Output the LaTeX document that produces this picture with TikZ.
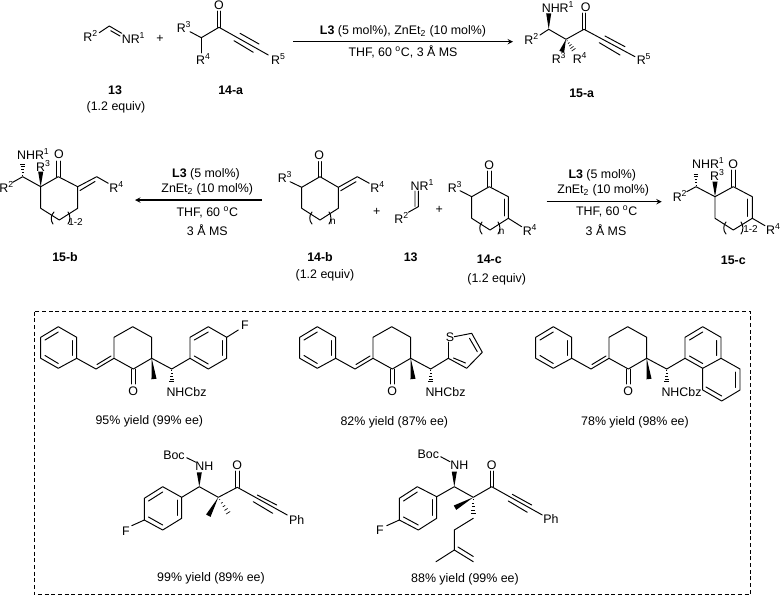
\documentclass[tikz,border=0pt]{standalone}
\usepackage{fontspec}
\setmainfont{Liberation Sans}
\usetikzlibrary{arrows,calc}
\tikzset{
  bond/.style={line width=0.72pt, line cap=round, line join=round, black},
  txt/.style={inner sep=0pt, font=\fontsize{9.3}{11}\selectfont},
  cmpd/.style={inner sep=0pt, font=\fontsize{9.3}{11}\selectfont\bfseries},
  rxnarrow/.style={line width=0.8pt, -stealth, black}
}
\newcommand{\RR}[1]{R\textsuperscript{#1}}
\newcommand{\wedgebond}[2]{\fill (#1) -- ($(#2)!1.9pt!90:(#1)$) -- ($(#2)!1.9pt!-90:(#1)$) -- cycle;}
\newcommand{\hashbond}[2]{\foreach \t/\w in {0.12/0.35,0.3/0.7,0.48/1.05,0.66/1.4,0.84/1.75,1/2.1} {
    \draw [line width=0.5pt] ($(#1)!\t!(#2)!\w pt!90:(#2)$) -- ($(#1)!\t!(#2)!\w pt!-90:(#2)$);
}}
% benzylidene cyclohexanone shared by the three upper products
\newcommand{\enone}{
\draw [bond] (40.7,337.3) -- (58.3,326.7) -- (76.7,337.3) -- (76.7,358.3) -- (58.3,368.3) -- (40.7,358.3) -- cycle;
\draw [bond] (45,340) -- (58.3,332) (72.5,340.5) -- (72.5,355.5) (58.3,363.5) -- (45,355.5);
\draw [bond] (76.7,358.3) -- (96,369) -- (114,358.3) -- (114,337.3) -- (132.7,326.7) -- (151.7,337.3) -- (151.7,358.3) -- (133.3,369) -- (114,358.3);
\draw [bond] (97,364.5) -- (111,356);
\draw [bond] (131.7,369) -- (131.7,384) (135,369) -- (135,384);
\node [txt] (oxo) at (133.3,391) {O};
\wedgebond{151.7,358.3}{154,379}
\draw [bond] (151.7,358.3) -- (171.7,369);
\hashbond{171.7,369}{171.7,384}
\node [txt] (nhcbz) at (186.5,391.7) {NHCbz};
}
\begin{document}
\begin{tikzpicture}[x=0.75pt,y=-0.75pt]
\useasboundingbox (0,0) rectangle (780,596);
% top row
\node [txt] (rtwoa) at (90.7,36) {\RR{2}};
\draw [bond] (99.3,32.7) -- (109.3,26) -- (121.7,33.3);
\draw [bond] (110.7,30.7) -- (120,36);
\node [txt] (nrone) at (133.5,38) {N\RR{1}};
\node [txt] (plusa) at (160,39) {+};
\node [txt] (rthreea) at (184,27.3) {\RR{3}};
\draw [bond] (190,31.7) -- (201.3,37.7) -- (219,27.3);
\draw [bond] (201.3,37.7) -- (201.3,53);
\draw [bond] (217.5,27.3) -- (217.5,11) (220.8,27.3) -- (220.8,11);
\node [txt] (oa) at (219,5) {O};
\node [txt] (rfoura) at (203.3,59.3) {\RR{4}};
\draw [bond] (219,27.3) -- (268.3,55);
\draw [bond] (240,33.3) -- (259,44) (234,40.7) -- (253.3,52.3);
\node [txt] (rfivea) at (278.3,59.3) {\RR{5}};
\node [cmpd] (lbla) at (115,90.7) {13};
\node [txt] (eqa) at (116,107.3) {(1.2 equiv)};
\node [cmpd] (lblb) at (230.7,90.7) {14-a};
\coordinate (topstart) at (293,41.7);
\coordinate (topend) at (513,41.7);
\draw [rxnarrow] (topstart) -- (topend);
\node [txt] (conda) at (403,31) {\textbf{L3} (5 mol\%), ZnEt\textsubscript{2} (10 mol\%)};
\node [txt] (condb) at (403,52) {THF, 60 \textsuperscript{o}C, 3 Å MS};
\node [txt] (nhra) at (558,6.7) {NH\RR{1}};
\wedgebond{548.7,29.3}{548.7,13.3}
\node [txt] (rtwob) at (531.7,39.3) {\RR{2}};
\draw [bond] (540,35) -- (548.7,29.3) -- (566,39.3) -- (584,29.3) -- (635,56.7);
\draw [bond] (582.4,29.3) -- (582.4,13) (585.7,29.3) -- (585.7,13);
\node [txt] (ob) at (585.7,7.3) {O};
\draw [bond] (605,36) -- (625,46.7) (599.3,42.7) -- (620,55);
\wedgebond{566,39.3}{561.7,51.7}
\hashbond{566,39.3}{575,51.7}
\node [txt] (rthreeb) at (559,58.3) {\RR{3}};
\node [txt] (rfourb) at (580,58.3) {\RR{4}};
\node [txt] (rfiveb) at (644,59.3) {\RR{5}};
\node [cmpd] (lblc) at (581.7,93.3) {15-a};
% middle row, left
\node [txt] (nhrc) at (33.3,154.3) {NH\RR{1}};
\node [txt] (oc) at (59,154.3) {O};
\node [txt] (rthreec) at (43.3,165.7) {\RR{3}};
\node [txt] (rtwoc) at (6.7,186.7) {\RR{2}};
\hashbond{22.7,176.7}{22.7,161.7}
\wedgebond{40.7,186.7}{40.7,171.7}
\draw [bond] (12.7,182.3) -- (22.7,176.7) -- (40.7,186.7) -- (58.3,176.7) -- (77.7,186.7) -- (96.7,176.7) -- (108.3,183.3);
\draw [bond] (80,190.5) -- (95,181.5);
\draw [bond] (56.7,176.7) -- (56.7,161) (60,176.7) -- (60,161);
\draw [bond] (40.7,186.7) -- (40.7,208.3) -- (59.3,220) -- (77.7,208.3) -- (77.7,186.7);
\draw [bond] (54,212) .. controls (50.5,215) and (50.5,221) .. (53,224);
\draw [bond] (68,212) .. controls (70.5,215) and (70.5,221) .. (68,224);
\node [txt, font=\fontsize{7.5}{9}\selectfont] (rnga) at (75.5,221.7) {1-2};
\node [txt] (rfourc) at (116.7,186.7) {\RR{4}};
\node [cmpd] (lbld) at (65,257.3) {15-b};
\coordinate (leftstart) at (261.7,200);
\coordinate (leftend) at (135,200);
\draw [rxnarrow] (leftstart) -- (leftend);
\node [txt] (condc) at (206,174) {\textbf{L3} (5 mol\%)};
\node [txt] (condd) at (207.3,189) {ZnEt\textsubscript{2} (10 mol\%)};
\node [txt] (conde) at (207.3,212.3) {THF, 60 \textsuperscript{o}C};
\node [txt] (condf) at (207.3,230) {3 Å MS};
% middle row, centre
\node [txt] (od) at (319.3,155) {O};
\node [txt] (rthreed) at (285,176.7) {\RR{3}};
\draw [bond] (290,181.7) -- (301.7,187.3) -- (320,176.7) -- (338.3,187.3) -- (357.3,176.7) -- (369.3,183.3);
\draw [bond] (340.7,190.7) -- (356,181.7);
\draw [bond] (318.4,176.7) -- (318.4,161.7) (321.7,176.7) -- (321.7,161.7);
\draw [bond] (301.7,187.3) -- (301.7,208.3) -- (320,220) -- (338.3,208.3) -- (338.3,187.3);
\draw [bond] (312,212) .. controls (309,215) and (309,221) .. (312,224);
\draw [bond] (329,212) .. controls (331.5,215) and (331.5,221) .. (329,224);
\node [txt, font=\fontsize{7.5}{9}\selectfont] (rngb) at (332.8,221.5) {n};
\node [txt] (rfourd) at (377.7,186.7) {\RR{4}};
\node [txt] (plusb) at (376.7,212.3) {+};
\node [cmpd] (lble) at (320,257.3) {14-b};
\node [txt] (eqb) at (325,275) {(1.2 equiv)};
\node [txt] (nrtwo) at (422.3,185) {N\RR{1}};
\draw [bond] (415,191) -- (415,206.5) (418.3,191) -- (418.3,206.7) -- (408.3,212.3);
\node [txt] (rtwoe) at (401.7,217.7) {\RR{2}};
\node [cmpd] (lblf) at (410.7,257.3) {13};
\node [txt] (plusc) at (439.3,210) {+};
\node [txt] (oe) at (489.3,165) {O};
\node [txt] (rthreee) at (455,186.7) {\RR{3}};
\draw [bond] (460,190.7) -- (471.7,196.7) -- (489.3,186.7) -- (508.3,196.7) -- (508.3,218.3) -- (521.7,226.7);
\draw [bond] (504.3,199) -- (504.3,216);
\draw [bond] (487.6,186.7) -- (487.6,171) (491,186.7) -- (491,171);
\draw [bond] (471.7,196.7) -- (471.7,218.3) -- (490,230) -- (508.3,218.3);
\draw [bond] (482,222) .. controls (479,225) and (479,231) .. (482,234);
\draw [bond] (498,222) .. controls (500.5,225) and (500.5,231) .. (498,234);
\node [txt, font=\fontsize{7.5}{9}\selectfont] (rngc) at (501.7,231.5) {n};
\node [txt] (rfoure) at (530,230) {\RR{4}};
\node [cmpd] (lblg) at (489.3,259.3) {14-c};
\node [txt] (eqc) at (496.7,279) {(1.2 equiv)};
% middle row, right
\coordinate (rightstart) at (546.7,201.7);
\coordinate (rightend) at (661.7,201.7);
\draw [rxnarrow] (rightstart) -- (rightend);
\node [txt] (condg) at (602.3,175.7) {\textbf{L3} (5 mol\%)};
\node [txt] (condh) at (603.3,190.7) {ZnEt\textsubscript{2} (10 mol\%)};
\node [txt] (condi) at (606.7,211.7) {THF, 60 \textsuperscript{o}C};
\node [txt] (condj) at (606,230) {3 Å MS};
\node [txt] (nhrf) at (708.3,163.3) {NH\RR{1}};
\node [txt] (of) at (733.3,164) {O};
\node [txt] (rthreef) at (717.3,175) {\RR{3}};
\node [txt] (rtwof) at (680,195.7) {\RR{2}};
\hashbond{696,186.7}{696,171.7}
\wedgebond{715,196.7}{715,181.7}
\draw [bond] (686.7,191.7) -- (696,186.7) -- (715,196.7) -- (733.3,186.7) -- (752.3,196.7) -- (752.3,218.3) -- (765,225.7);
\draw [bond] (747.7,199) -- (747.7,216.5);
\draw [bond] (731.6,186.7) -- (731.6,170) (735,186.7) -- (735,170);
\draw [bond] (715,196.7) -- (715,218.3) -- (733.3,230) -- (752.3,218.3);
\draw [bond] (726,222) .. controls (723,225) and (723,231) .. (726,234);
\draw [bond] (741,222) .. controls (743.5,225) and (743.5,231) .. (741,234);
\node [txt, font=\fontsize{7.5}{9}\selectfont] (rngd) at (750.5,229) {1-2};
\node [txt] (rfourf) at (773.3,229) {\RR{4}};
\node [cmpd] (lblh) at (733.3,260) {15-c};
% examples
\draw [line width=0.6pt, densely dashed] (34,311.7) rectangle (750.7,594.3);
\begin{scope}
\enone
\end{scope}
\begin{scope}[shift={(259,0)}]
\enone
\end{scope}
\begin{scope}[shift={(495,0)}]
\enone
\end{scope}
\draw [bond] (171.7,369) -- (190,358.3);
\draw [bond] (190,358.3) -- (190,337.3) -- (208.3,326.7) -- (226.7,337.3) -- (226.7,358.3) -- (208.3,369) -- cycle;
\draw [bond] (194.3,340) -- (208.3,332) (222.5,340.5) -- (222.5,355.5) (208.3,364) -- (194.3,356);
\draw [bond] (226.7,337.3) -- (238.3,330);
\node [txt] (fa) at (245,325.7) {F};
\node [txt] (yielda) at (149.3,421.7) {95\% yield (99\% ee)};
\draw [bond] (430.7,369) -- (448.3,358.3) -- (466.7,368.3) -- (482.3,352.3) -- (471.7,333.3) -- (454.3,336.7);
\draw [bond] (448.3,358.3) -- (448.3,342);
\draw [bond] (453.5,358) -- (465.5,363) (477.3,351.7) -- (469.5,338.3);
\node [txt] (sb) at (450,337) {S};
\node [txt] (yieldb) at (394.3,422.3) {82\% yield (87\% ee)};
\draw [bond] (666.7,369) -- (685,358.3);
\draw [bond] (685,358.3) -- (685,337.3) -- (702.7,326.7) -- (721,337.3) -- (721,358.3) -- (702.7,368.3) -- cycle;
\draw [bond] (721,358.3) -- (740,369) -- (740,390) -- (721.7,401) -- (702.7,390) -- (702.7,368.3);
\draw [bond] (689.5,340) -- (702.7,332) (716.7,340.5) -- (716.7,355.5) (702.7,363.5) -- (689.5,356);
\draw [bond] (735.5,372) -- (735.5,387.5) (721.7,396) -- (706,387);
\node [txt] (yieldc) at (635,422.3) {78\% yield (98\% ee)};
\node [txt] (boca) at (174,455.7) {Boc};
\draw [bond] (186.7,457.7) -- (196,462.3);
\node [txt] (nha) at (204.3,466) {NH};
\wedgebond{199.3,486.7}{199.3,472.3}
\draw [bond] (181.7,497.3) -- (199.3,486.7) -- (218.3,497.3) -- (237.3,487.3) -- (287.3,515);
\draw [bond] (181.7,497.3) -- (181.7,518.3) -- (162.7,530) -- (144.3,520) -- (144.3,498.3) -- (162.7,486.7) -- cycle;
\draw [bond] (177.5,500) -- (177.5,515.5) (162.7,525) -- (148.5,517) (148.5,501) -- (162.7,492);
\draw [bond] (144.3,520) -- (131.7,525.7);
\node [txt] (fb) at (126,531) {F};
\draw [bond] (235.6,487.3) -- (235.6,471) (239,487.3) -- (239,471);
\node [txt] (oh) at (237.3,465.7) {O};
\wedgebond{218.3,497.3}{208.3,515.7}
\hashbond{218.3,497.3}{230,515.7}
\draw [bond] (257.3,495) -- (276.7,505) (253.3,501.7) -- (272.7,513.3);
\node [txt] (pha) at (296.7,520) {Ph};
\node [txt] (yieldd) at (211,578.3) {99\% yield (89\% ee)};
\node [txt] (bocb) at (428.3,454.3) {Boc};
\draw [bond] (440.7,456.7) -- (450,461.7);
\node [txt] (nhb) at (459.3,465) {NH};
\wedgebond{454.3,486.7}{454.3,471.7}
\draw [bond] (436.7,496.7) -- (454.3,486.7) -- (473.3,497.3) -- (491.7,486.7) -- (542.3,515);
\draw [bond] (436.7,496.7) -- (436.7,518.3) -- (418.3,530) -- (399.3,520) -- (399.3,498.3) -- (417.3,486.7) -- cycle;
\draw [bond] (432.5,499.5) -- (432.5,515.5) (418.3,525) -- (403.5,517) (403.5,501) -- (417.3,492);
\draw [bond] (399.3,520) -- (386.7,525.7);
\node [txt] (fc) at (380,530) {F};
\draw [bond] (490,486.7) -- (490,471) (493.4,486.7) -- (493.4,471);
\node [txt] (oi) at (491.7,465) {O};
\wedgebond{473.3,497.3}{455,507.7}
\hashbond{473.3,497.3}{473.3,516.7}
\draw [bond] (473.3,518.3) -- (454.3,530) -- (454.3,550) -- (436,561.7);
\draw [bond] (454.3,550) -- (473.3,561.7) (458,547) -- (473.3,556.5);
\draw [bond] (512.3,494.3) -- (531.7,505) (508.3,501) -- (527.3,512.3);
\node [txt] (phb) at (551,519) {Ph};
\node [txt] (yielde) at (465,579.3) {88\% yield (99\% ee)};
\end{tikzpicture}
\end{document}
